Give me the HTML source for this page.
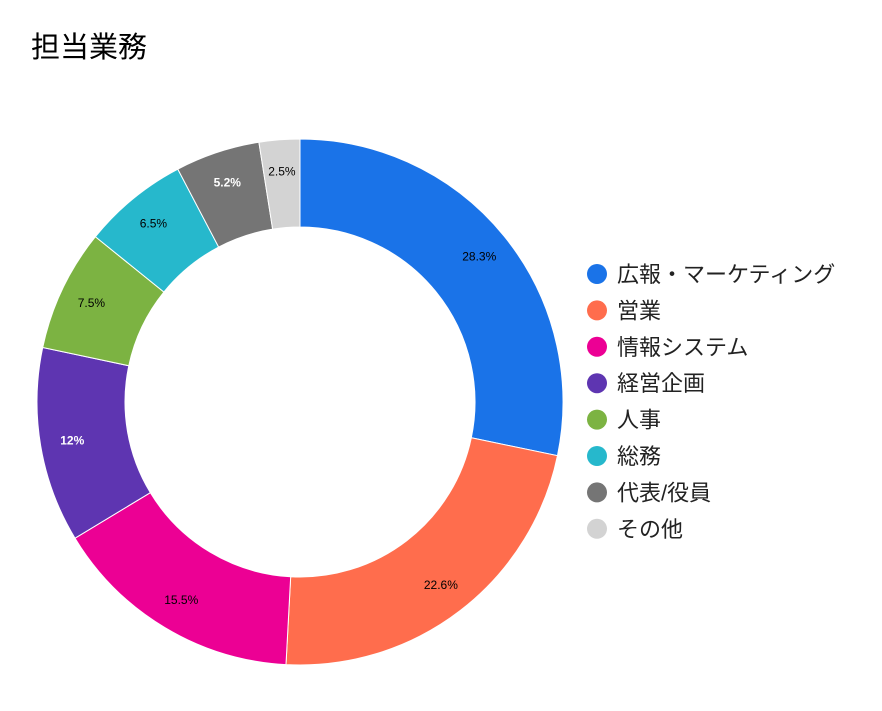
<!DOCTYPE html>
<html><head><meta charset="utf-8">
<style>
body{margin:0;background:#fff;font-family:"Liberation Sans","Noto Sans CJK JP",sans-serif;}
#wrap{position:relative;width:882px;height:711px;overflow:hidden;}
</style></head>
<body>
<div id="wrap">
<svg id="chart" width="882" height="711">
<text x="31" y="57" font-size="29" fill="#000" font-family="Liberation Sans, Noto Sans CJK JP, sans-serif">担当業務</text>
</svg>
</div>
<script>
const categories=["広報・マーケティング","営業","情報システム","経営企画","人事","総務","代表/役員","その他"];
const values=[28.3,22.6,15.5,12,7.5,6.5,5.2,2.5];
const labels=["28.3%","22.6%","15.5%","12%","7.5%","6.5%","5.2%","2.5%"];
const colors=["#1a73e8","#ff6d4d","#ec0094","#5e35b1","#7cb342","#26b8cc","#757575","#d3d3d3"];
const labelColors=["#000","#000","#000","#fff","#000","#000","#fff","#000"];
const ns="http://www.w3.org/2000/svg";
const svg=document.getElementById('chart');
const cx=300,cy=402,R=263,r=175,LR=231;
const total=values.reduce((a,b)=>a+b,0);
function pt(a,rad){return [cx+rad*Math.sin(a),cy-rad*Math.cos(a)];}
let start=0;
values.forEach((v,i)=>{
  const ang=v/total*2*Math.PI,end=start+ang,large=ang>Math.PI?1:0;
  const [x1,y1]=pt(start,R),[x2,y2]=pt(end,R),[x3,y3]=pt(end,r),[x4,y4]=pt(start,r);
  const p=document.createElementNS(ns,'path');
  p.setAttribute('d',`M${x1},${y1}A${R},${R} 0 ${large} 1 ${x2},${y2}L${x3},${y3}A${r},${r} 0 ${large} 0 ${x4},${y4}Z`);
  p.setAttribute('fill',colors[i]);p.setAttribute('stroke','#fff');p.setAttribute('stroke-width','1');
  
  
  svg.appendChild(p);
  const [lx,ly]=pt(start+ang/2,LR);
  const t=document.createElementNS(ns,'text');
  t.setAttribute('x',lx);t.setAttribute('y',ly+4);t.setAttribute('text-anchor','middle');
  t.setAttribute('font-size','12');t.setAttribute('fill',labelColors[i]);
  if(labelColors[i]=='#fff')t.setAttribute('font-weight','bold');
  t.textContent=labels[i];
  
  
  svg.appendChild(t);
  start=end;
});
categories.forEach((c,i)=>{
  const y=274+i*36.4;
  const g=document.createElementNS(ns,'g');
  
  
  const ci=document.createElementNS(ns,'circle');
  ci.setAttribute('cx',597);ci.setAttribute('cy',y);ci.setAttribute('r',10);ci.setAttribute('fill',colors[i]);
  g.appendChild(ci);
  const t=document.createElementNS(ns,'text');
  t.setAttribute('x',617);t.setAttribute('y',y+8);t.setAttribute('font-size','22');t.setAttribute('fill','#222');
  t.setAttribute('font-family','Liberation Sans, Noto Sans CJK JP, sans-serif');
  t.textContent=c;g.appendChild(t);
  svg.appendChild(g);
});
</script>
</body></html>
